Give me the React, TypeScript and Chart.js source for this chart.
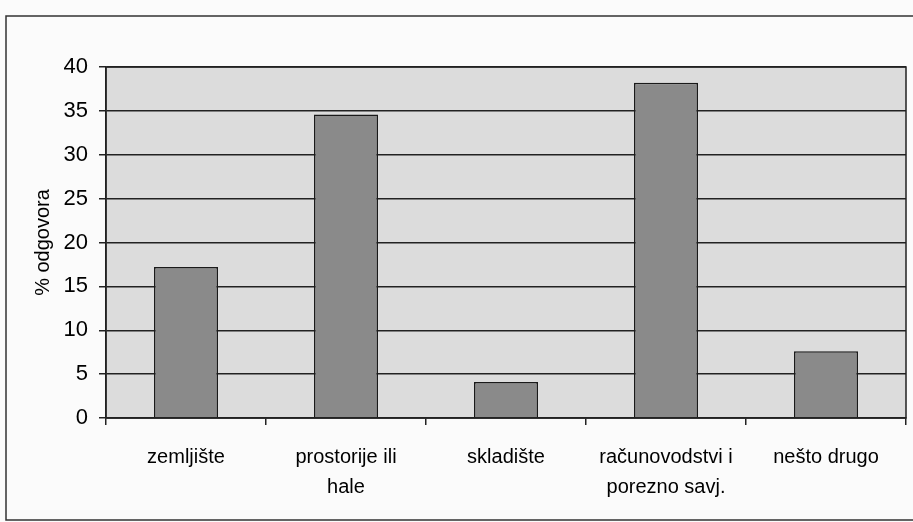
import React, { useEffect, useRef } from "react";
import { Chart, registerables } from "chart.js";

Chart.register(...registerables);

const categories: (string | string[])[] = [
  "zemljište",
  ["prostorije ili", "hale"],
  "skladište",
  ["računovodstvi i", "porezno savj."],
  "nešto drugo",
];
const values: number[] = [17.2, 34.6, 4.1, 38.2, 7.6];
const yTicks: number[] = [0, 5, 10, 15, 20, 25, 30, 35, 40];

const W = 913;
const H = 522;
const FONT = "Arial, 'Liberation Sans', sans-serif";

const framePlugin = {
  id: "frame",
  beforeDraw(chart: any) {
    const { ctx, chartArea } = chart;
    ctx.save();
    ctx.fillStyle = "#fbfbfb";
    ctx.fillRect(0, 0, chart.width, chart.height);
    ctx.fillStyle = "#dcdcdc";
    ctx.fillRect(chartArea.left, chartArea.top, chartArea.right - chartArea.left, chartArea.bottom - chartArea.top);
    ctx.strokeStyle = "#333";
    ctx.lineWidth = 1.5;
    ctx.beginPath();
    ctx.moveTo(W, 16);
    ctx.lineTo(6, 16);
    ctx.lineTo(6, 520);
    ctx.lineTo(W, 520);
    ctx.stroke();
    ctx.restore();
  },
  afterDatasetsDraw(chart: any) {
    const { ctx, chartArea } = chart;
    ctx.save();
    ctx.strokeStyle = "#222";
    ctx.lineWidth = 1.5;
    ctx.strokeRect(chartArea.left, chartArea.top, chartArea.right - chartArea.left, chartArea.bottom - chartArea.top);
    ctx.restore();
  },
};

export default function App() {
  const ref = useRef<HTMLCanvasElement>(null);
  useEffect(() => {
    document.body.style.margin = "0";
    const chart = new Chart(ref.current!, {
      type: "bar",
      data: {
        labels: categories,
        datasets: [
          {
            data: values,
            backgroundColor: "#8a8a8a",
            borderColor: "#1a1a1a",
            borderWidth: 1.5,
            barPercentage: 0.4,
            categoryPercentage: 1,
          },
        ],
      },
      options: {
        animation: false,
        responsive: false,
        maintainAspectRatio: false,
        layout: { padding: { top: 67, right: 7, left: 0, bottom: 0 } },
        plugins: { legend: { display: false }, tooltip: { enabled: false } },
        scales: {
          x: {
            grid: {
              offset: true,
              drawOnChartArea: false,
              drawTicks: true,
              tickLength: 7,
              color: "#222",
              lineWidth: 1.5,
            },
            border: { display: true, color: "#222", width: 1.5 },
            ticks: {
              color: "#000",
              font: { family: FONT, size: 20, lineHeight: 1.5 },
              padding: 17,
              maxRotation: 0,
              autoSkip: false,
            },
            afterFit(scale: any) {
              scale.height = H - 418;
            },
          },
          y: {
            min: 0,
            max: 40,
            afterBuildTicks(scale: any) {
              scale.ticks = yTicks.map((v) => ({ value: v }));
            },
            grid: {
              color: "#222",
              lineWidth: 1.5,
              drawTicks: true,
              tickLength: 7,
            },
            border: { display: true, color: "#222", width: 1.5 },
            ticks: {
              color: "#000",
              font: { family: FONT, size: 22 },
              padding: 11,
            },
            title: {
              display: true,
              text: "% odgovora",
              color: "#000",
              font: { family: FONT, size: 20 },
              padding: { top: 31, bottom: 0 },
            },
            afterFit(scale: any) {
              scale.width = 106;
            },
          },
        },
      },
      plugins: [framePlugin],
    });
    return () => chart.destroy();
  }, []);
  return (
    <div style={{ width: W, height: H }}>
      <canvas ref={ref} width={W} height={H} style={{ display: "block", width: W, height: H }} />
    </div>
  );
}
